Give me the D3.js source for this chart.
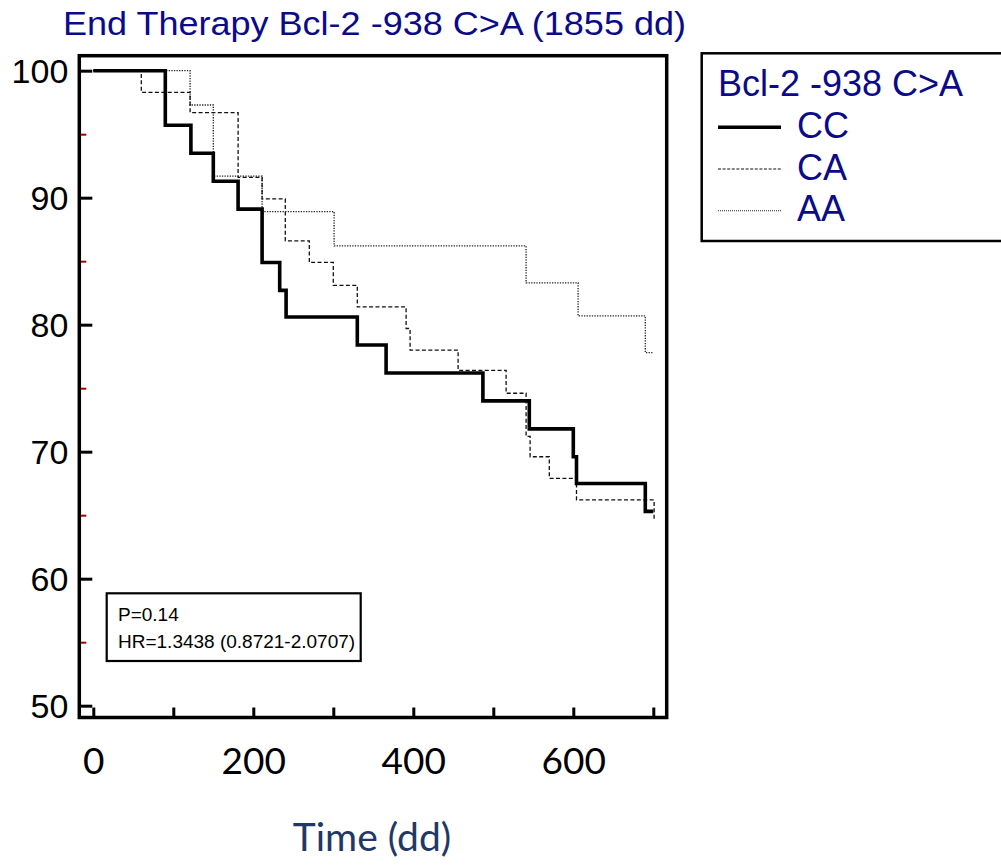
<!DOCTYPE html>
<html>
<head>
<meta charset="utf-8">
<script src="https://cdn.jsdelivr.net/npm/d3@7"></script>
<style>
  html, body { margin: 0; padding: 0; background: #ffffff; }
  svg { display: block; }
</style>
</head>
<body>
<script>
// ---------------- data ----------------
const chartTitle = "End Therapy Bcl-2 -938 C>A (1855 dd)";
const legendTitle = "Bcl-2 -938 C>A";
const groups = ["CC", "CA", "AA"];

const ccTime = [0, 90, 122, 150, 181, 211, 233, 241, 330, 366, 487, 545, 600, 604, 690, 700];
const ccSurv = [100, 95.7, 93.5, 91.3, 89.1, 84.9, 82.7, 80.6, 78.4, 76.2, 74.0, 71.8, 69.6, 67.5, 65.3, 65.3];

const caTime = [0, 60, 121, 181, 211, 240, 270, 300, 330, 391, 396, 456, 516, 541, 546, 570, 604, 701];
const caSurv = [100, 98.3, 96.7, 91.6, 89.9, 86.6, 84.9, 83.1, 81.4, 79.7, 78.0, 76.4, 74.6, 71.2, 69.6, 67.9, 66.2, 64.6];

const aaTime = [0, 121, 150, 211, 301, 541, 606, 690, 700];
const aaSurv = [100, 97.3, 91.7, 88.9, 86.2, 83.3, 80.7, 77.8, 77.8];

const yMajorTicks = [50, 60, 70, 80, 90, 100];
const yMinorTicks = [55, 65, 75, 85, 95];
const xTicks = [0, 100, 200, 300, 400, 500, 600, 700];
const xTickLabels = [0, 200, 400, 600];

const statLines = ["P=0.14", "HR=1.3438 (0.8721-2.0707)"];
const xAxisTitle = "Time (dd)";

// ---------------- layout ----------------
const W = 1001, H = 865;
const plot = { left: 79.3, right: 666.7, top: 55.7, bottom: 717.5 };
const navy = "#0b0b8a";

const svg = d3.select("body").append("svg")
  .attr("width", W).attr("height", H)
  .style("background", "#fff");

const x = d3.scaleLinear().domain([-17.5, 716.75]).range([plot.left, plot.right]);
const y = d3.scaleLinear().domain([49.07, 101.18]).range([plot.bottom, plot.top]);

// title
svg.append("text")
  .attr("x", 63).attr("y", 35)
  .attr("font-family", "'Liberation Sans', Arial, sans-serif")
  .attr("font-size", 34)
  .attr("textLength", 623)
  .attr("lengthAdjust", "spacingAndGlyphs")
  .attr("fill", navy)
  .text(chartTitle);

// ---------------- curves ----------------
const series = [
  { name: "CC", t: ccTime, s: ccSurv, width: 3.6, dash: null, color: "#000" },
  { name: "CA", t: caTime, s: caSurv, width: 1.3, dash: "4,2.4", color: "#111" },
  { name: "AA", t: aaTime, s: aaSurv, width: 1.3, dash: "1.3,1.3", color: "#222" }
];

const line = d3.line()
  .x(d => x(d[0]))
  .y(d => y(d[1]))
  .curve(d3.curveStepAfter);

[series[2], series[1], series[0]].forEach(sr => {
  const pts = sr.t.map((t, i) => [t, sr.s[i]]);
  svg.append("path")
    .attr("d", line(pts))
    .attr("fill", "none")
    .attr("stroke", sr.color)
    .attr("stroke-width", sr.width)
    .attr("stroke-dasharray", sr.dash)
    .attr("stroke-linejoin", "miter");
});

// ---------------- axes ----------------
const yAxis = d3.axisLeft(y)
  .tickValues(yMajorTicks)
  .tickSizeInner(-13)
  .tickSizeOuter(0)
  .tickPadding(11)
  .tickFormat(d3.format("d"));

const gy = svg.append("g")
  .attr("transform", `translate(${plot.left},0)`)
  .call(yAxis);
gy.select(".domain").remove();
gy.selectAll(".tick line").attr("stroke", "#000").attr("stroke-width", 3);
gy.selectAll(".tick text")
  .attr("font-family", "'Liberation Sans', Arial, sans-serif")
  .attr("font-size", 34)
  .attr("fill", "#000")
  .attr("dy", "0.34em");

const yMinor = d3.axisLeft(y)
  .tickValues(yMinorTicks)
  .tickSizeInner(-7)
  .tickSizeOuter(0)
  .tickFormat("");
const gym = svg.append("g")
  .attr("transform", `translate(${plot.left},0)`)
  .call(yMinor);
gym.select(".domain").remove();
gym.selectAll(".tick line").attr("stroke", "#a00000").attr("stroke-width", 2);

const xAxis = d3.axisBottom(x)
  .tickValues(xTicks)
  .tickSizeInner(-10)
  .tickSizeOuter(0)
  .tickPadding(30)
  .tickFormat(d => xTickLabels.includes(d) ? String(d) : "");
const gx = svg.append("g")
  .attr("transform", `translate(0,${plot.bottom})`)
  .call(xAxis);
gx.select(".domain").remove();
gx.selectAll(".tick line").attr("stroke", "#000").attr("stroke-width", 3);
gx.selectAll(".tick text")
  .attr("font-family", "Lato, 'Open Sans', sans-serif")
  .attr("font-size", 37)
  .attr("fill", "#000");

// frame
svg.append("rect")
  .attr("x", plot.left).attr("y", plot.top)
  .attr("width", plot.right - plot.left)
  .attr("height", plot.bottom - plot.top)
  .attr("fill", "none")
  .attr("stroke", "#000")
  .attr("stroke-width", 3.5);

// x axis title
svg.append("text")
  .attr("x", 372).attr("y", 851)
  .attr("text-anchor", "middle")
  .attr("font-family", "Lato, 'Open Sans', sans-serif")
  .attr("font-size", 39)
  .attr("fill", "#1f3864")
  .text(xAxisTitle);

// ---------------- stats box ----------------
svg.append("rect")
  .attr("x", 106.7).attr("y", 593.3)
  .attr("width", 254).attr("height", 67.7)
  .attr("fill", "#fff")
  .attr("stroke", "#000")
  .attr("stroke-width", 2.2);
svg.selectAll("text.stat")
  .data(statLines)
  .enter().append("text")
  .attr("class", "stat")
  .attr("x", 118)
  .attr("y", (d, i) => 621 + i * 27.3)
  .attr("font-family", "'Liberation Sans', Arial, sans-serif")
  .attr("font-size", 19)
  .attr("fill", "#000")
  .text(d => d);

// ---------------- legend ----------------
const lg = svg.append("g");
lg.append("rect")
  .attr("x", 701.7).attr("y", 53.3)
  .attr("width", 330).attr("height", 187.7)
  .attr("fill", "#fff")
  .attr("stroke", "#000")
  .attr("stroke-width", 2.5);
lg.append("text")
  .attr("x", 718).attr("y", 96)
  .attr("font-family", "'Liberation Sans', Arial, sans-serif")
  .attr("font-size", 36)
  .attr("fill", navy)
  .text(legendTitle);

const rowY = d3.scalePoint().domain(groups).range([127.3, 210.7]);
series.forEach(sr => {
  const yy = rowY(sr.name);
  lg.append("line")
    .attr("x1", 718).attr("x2", 781)
    .attr("y1", yy).attr("y2", yy)
    .attr("stroke", sr.color)
    .attr("stroke-width", sr.name === "CC" ? 3.6 : 1.1)
    .attr("stroke-dasharray", sr.name === "CC" ? null : (sr.name === "CA" ? "3,1.6" : "1,1"));
  lg.append("text")
    .attr("x", 797).attr("y", yy + 10.5)
    .attr("font-family", "'Liberation Sans', Arial, sans-serif")
    .attr("font-size", 36)
    .attr("fill", navy)
    .text(sr.name);
});
</script>
</body>
</html>
